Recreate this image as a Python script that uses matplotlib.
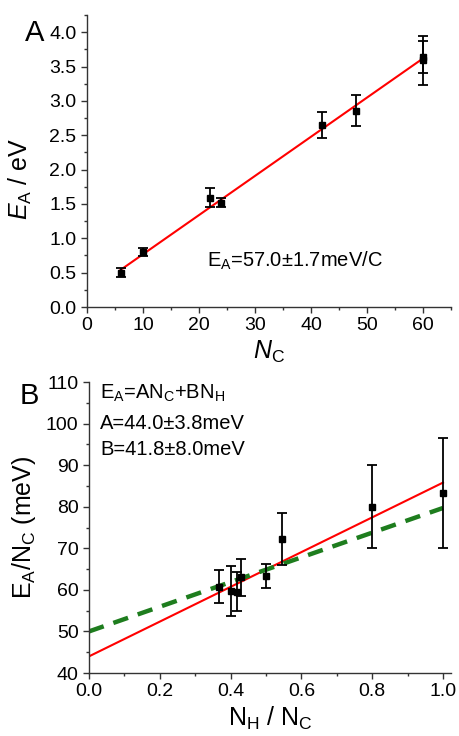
import matplotlib
matplotlib.use("Agg")
import matplotlib.pyplot as plt
from matplotlib.ticker import MultipleLocator, FormatStrFormatter
import numpy as np

plt.rcParams['font.family'] = ['Liberation Sans', 'DejaVu Sans']
plt.rcParams['mathtext.fontset'] = 'custom'
plt.rcParams['mathtext.rm'] = 'Liberation Sans'
plt.rcParams['mathtext.it'] = 'Liberation Sans:italic'
plt.rcParams['mathtext.bf'] = 'Liberation Sans:bold'

# Panel A data
nc = [6, 10, 22, 24, 42, 48, 60, 60]
ea = [0.50, 0.80, 1.59, 1.52, 2.65, 2.86, 3.59, 3.64]
ea_err = [0.07, 0.06, 0.14, 0.06, 0.19, 0.22, 0.36, 0.23]
fit_a_x = [6, 60]
fit_a_slope = 0.057
fit_a_icpt = 0.198

# Panel B data
ratio = [1.0, 0.8, 0.545, 0.5, 0.429, 0.417, 0.4, 0.367]
ea_per_c = [83.3, 80.0, 72.3, 63.3, 63.0, 59.6, 59.8, 60.8]
ea_per_c_err = [13.3, 10.0, 6.3, 2.9, 4.5, 4.6, 6.0, 4.0]
fit_b_x = [0.0, 1.0]
red_icpt, red_slope = 44.0, 41.8
green_icpt, green_slope = 50.0, 29.7

W, H = 459, 736
fig = plt.figure(figsize=(W / 100, H / 100), dpi=100)

axA = fig.add_axes([87 / W, 1 - 307 / H, (451 - 87) / W, (307 - 15) / H])
axB = fig.add_axes([89 / W, 1 - 673 / H, (451 - 89) / W, (673 - 382) / H])

TICK_FS = 14
for ax in (axA, axB):
    for s in ('top', 'right'):
        ax.spines[s].set_visible(False)
    for s in ('left', 'bottom'):
        ax.spines[s].set_linewidth(1.0)
        ax.spines[s].set_color('#333333')
    ax.tick_params(which='major', direction='out', length=4.5, width=1.0,
                   labelsize=TICK_FS, color='#333333', pad=3)
    ax.tick_params(which='minor', direction='out', length=2.5, width=1.0,
                   color='#333333')

# Panel A
fx = np.array(fit_a_x, dtype=float)
axA.plot(fx, fit_a_icpt + fit_a_slope * fx, color='red', lw=1.5, zorder=2)
axA.errorbar(nc, ea, yerr=ea_err, fmt='s', color='black', ms=4.5,
             ecolor='black', elinewidth=1.3, capsize=3.5, capthick=1.3, zorder=3)
axA.set_xlim(0, 65)
axA.set_ylim(0, 4.25)
axA.xaxis.set_major_locator(MultipleLocator(10))
axA.xaxis.set_minor_locator(MultipleLocator(5))
axA.yaxis.set_major_locator(MultipleLocator(0.5))
axA.yaxis.set_minor_locator(MultipleLocator(0.25))
axA.yaxis.set_major_formatter(FormatStrFormatter('%.1f'))
axA.set_xlabel(r'$\mathit{N}_{\mathrm{C}}$', fontsize=18)
axA.set_ylabel(r'$\mathit{E}_{\mathrm{A}}$ / eV', fontsize=18)
axA.xaxis.set_label_coords(0.5, -0.11)
axA.yaxis.set_label_coords(-0.145, 0.44)
axA.text(21.4, 0.58, r'E$_{\mathrm{A}}$=57.0±1.7meV/C', fontsize=14.5,
         ha='left', va='baseline')
fig.text(25 / W, 1 - 33 / H, 'A', fontsize=21, ha='left', va='center')

# Panel B
bx = np.array(fit_b_x, dtype=float)
axB.plot(bx, red_icpt + red_slope * bx, color='red', lw=1.5, zorder=2)
axB.plot(bx, green_icpt + green_slope * bx, color='#1e7d1e', lw=3.2,
         dashes=(3.5, 2.3), zorder=2)
axB.errorbar(ratio, ea_per_c, yerr=ea_per_c_err, fmt='s', color='black', ms=4.5,
             ecolor='black', elinewidth=1.3, capsize=3.5, capthick=1.3, zorder=3)
axB.set_xlim(0, 1.0226)
axB.set_ylim(40, 110)
axB.xaxis.set_major_locator(MultipleLocator(0.2))
axB.xaxis.set_minor_locator(MultipleLocator(0.1))
axB.yaxis.set_major_locator(MultipleLocator(10))
axB.yaxis.set_minor_locator(MultipleLocator(5))
axB.xaxis.set_major_formatter(FormatStrFormatter('%.1f'))
axB.set_xlabel(r'N$_{\mathrm{H}}$ / N$_{\mathrm{C}}$', fontsize=18)
axB.set_ylabel(r'E$_{\mathrm{A}}$/N$_{\mathrm{C}}$ (meV)', fontsize=18)
axB.xaxis.set_label_coords(0.5, -0.11)
axB.yaxis.set_label_coords(-0.14, 0.5)
axB.text(0.031, 105.9, r'E$_{\mathrm{A}}$=AN$_{\mathrm{C}}$+BN$_{\mathrm{H}}$',
         fontsize=14.5, ha='left', va='baseline')
axB.text(0.031, 98.7, 'A=44.0±3.8meV', fontsize=14.5, ha='left', va='baseline')
axB.text(0.031, 92.4, 'B=41.8±8.0meV', fontsize=14.5, ha='left', va='baseline')
fig.text(20 / W, 1 - 396 / H, 'B', fontsize=21, ha='left', va='center')

fig.savefig('out.png', dpi=100)
